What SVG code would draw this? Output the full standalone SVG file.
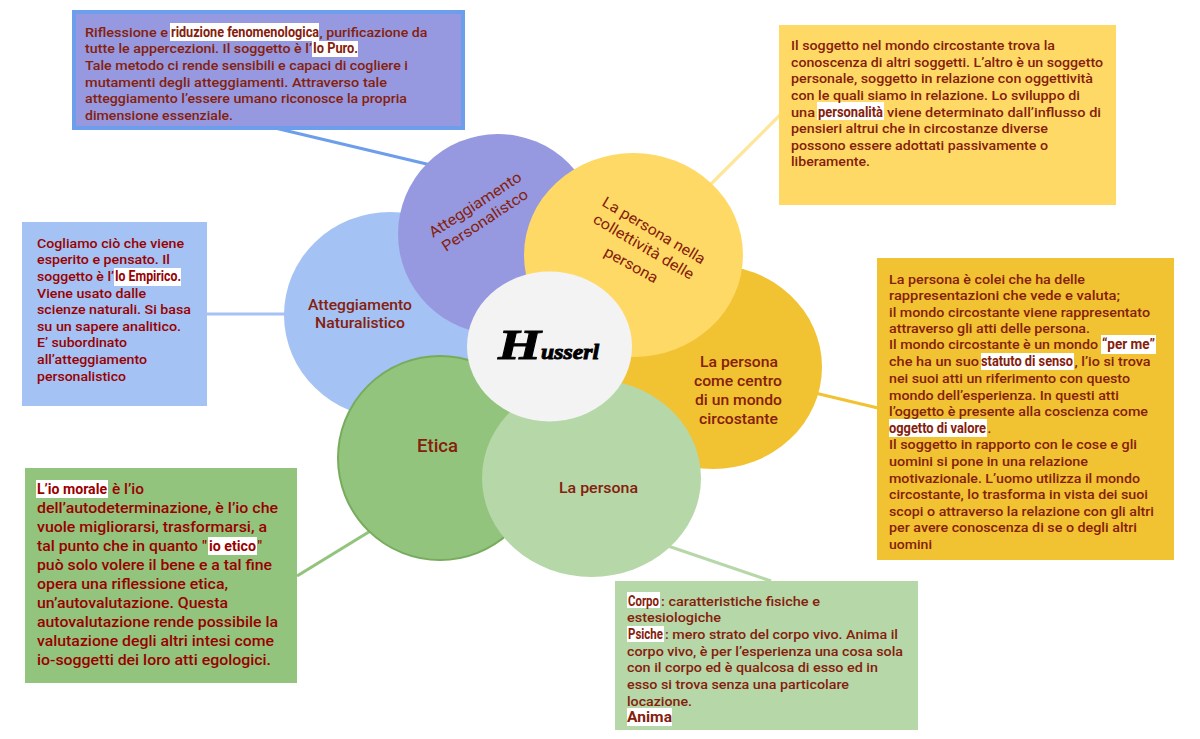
<svg xmlns="http://www.w3.org/2000/svg" width="1200" height="739" viewBox="0 0 1200 739">
<style>
text{font-family:Roboto,"Liberation Sans",sans-serif;font-weight:500;fill:#85200c;font-size:13.4px}
.r{fill:#990000}
.big{font-size:14.4px}
.hl{fill:#fff}
.b{font-family:"Liberation Sans Narrow",Roboto,sans-serif;font-weight:700;font-size:14.5px}
.lab{font-size:15px;font-weight:500}
.con{fill:none;stroke-width:3.2}
</style>
<rect width="1200" height="739" fill="#fff"/>
<g id="connectors">
<line class="con" x1="275" y1="128" x2="435" y2="166" stroke="#6d9eeb"/>
<line class="con" x1="207" y1="314" x2="286" y2="314" stroke="#a4c2f4"/>
<line class="con" x1="711" y1="184" x2="781" y2="114" stroke="#ffe599"/>
<line class="con" x1="815" y1="393" x2="878" y2="408" stroke="#f1c232"/>
<line class="con" x1="297" y1="576" x2="372" y2="530" stroke="#93c47d"/>
<line class="con" x1="668" y1="546" x2="771" y2="581" stroke="#b6d7a8"/>
</g>
<g id="node-naturalistico">
<ellipse cx="390" cy="315" rx="106" ry="103" fill="#a4c2f4"/>
<text class="lab" x="308" y="310" textLength="104" lengthAdjust="spacingAndGlyphs">Atteggiamento</text>
<text class="lab" x="315" y="328" textLength="90" lengthAdjust="spacingAndGlyphs">Naturalistico</text>
</g>
<g id="node-personalistico">
<ellipse cx="498" cy="234" rx="100" ry="100" fill="#9699e0"/>
<text class="lab" transform="translate(433 238) rotate(-33)" textLength="107" lengthAdjust="spacingAndGlyphs" style="font-weight:400">Atteggiamento</text>
<text class="lab" transform="translate(446 252) rotate(-33.5)" textLength="100" lengthAdjust="spacingAndGlyphs" style="font-weight:400">Personalistco</text>
</g>
<g id="node-circostante">
<ellipse cx="713" cy="367" rx="109" ry="102" fill="#f1c232"/>
<text class="lab" x="700" y="367" textLength="78" lengthAdjust="spacingAndGlyphs">La persona</text>
<text class="lab" x="694" y="386" textLength="88" lengthAdjust="spacingAndGlyphs">come centro</text>
<text class="lab" x="695" y="405" textLength="87" lengthAdjust="spacingAndGlyphs">di un mondo</text>
<text class="lab" x="699" y="424" textLength="79" lengthAdjust="spacingAndGlyphs">circostante</text>
</g>
<g id="node-collettivita">
<ellipse cx="633.500" cy="255" rx="109.500" ry="102" fill="#ffd966"/>
<text class="lab" transform="translate(601 205) rotate(30.700)" textLength="117" lengthAdjust="spacingAndGlyphs" style="font-weight:400">La persona nella</text>
<text class="lab" transform="translate(592 222) rotate(30.600)" textLength="114" lengthAdjust="spacingAndGlyphs" style="font-weight:400">collettività delle</text>
<text class="lab" transform="translate(603 255) rotate(29)" textLength="59" lengthAdjust="spacingAndGlyphs" style="font-weight:400">persona</text>
</g>
<g id="node-etica">
<ellipse cx="440" cy="458" rx="102" ry="102" fill="#93c47d" stroke="#76ac5c" stroke-width="2"/>
<text class="lab" x="417" y="452" textLength="41" lengthAdjust="spacingAndGlyphs" style="font-size:18px">Etica</text>
</g>
<g id="node-persona">
<ellipse cx="591.500" cy="478" rx="109.500" ry="99" fill="#b6d7a8"/>
<text class="lab" x="559" y="493" textLength="79" lengthAdjust="spacingAndGlyphs">La persona</text>
</g>
<g id="node-husserl">
<ellipse cx="549.500" cy="346.500" rx="82.500" ry="75" fill="#f3f3f3"/>
<text y="359" style="font-family:'Liberation Serif',serif;font-style:italic;font-weight:700;fill:#000;stroke:#000;stroke-width:.9"><tspan x="498" textLength="43" lengthAdjust="spacingAndGlyphs" style="font-size:42px">H</tspan><tspan x="541" textLength="58" lengthAdjust="spacingAndGlyphs" style="font-size:22px">usserl</tspan></text>
</g>
<g id="box-riduzione">
<rect x="74" y="12" width="389" height="116" fill="#9699e0" stroke="#6d9eeb" stroke-width="4"/>
<rect class="hl" x="170" y="23" width="149" height="18"/>
<rect class="hl" x="312" y="41" width="46" height="16"/>
<text y="37"><tspan x="85" textLength="83" lengthAdjust="spacingAndGlyphs">Riflessione e</tspan><tspan class="b" x="171" textLength="148" lengthAdjust="spacingAndGlyphs">riduzione fenomenologica</tspan><tspan x="319.500" textLength="108" lengthAdjust="spacingAndGlyphs">, purificazione da</tspan></text>
<text y="53"><tspan x="85" textLength="227" lengthAdjust="spacingAndGlyphs">tutte le appercezioni. Il soggetto è l’</tspan><tspan class="b" x="313" textLength="45" lengthAdjust="spacingAndGlyphs">Io Puro.</tspan></text>
<text x="85" y="70" textLength="323" lengthAdjust="spacingAndGlyphs">Tale metodo ci rende sensibili e capaci di cogliere i</text>
<text x="85" y="87" textLength="302" lengthAdjust="spacingAndGlyphs">mutamenti degli atteggiamenti. Attraverso  tale</text>
<text x="85" y="103" textLength="322" lengthAdjust="spacingAndGlyphs">atteggiamento l’essere umano riconosce la propria</text>
<text x="85" y="120" textLength="148" lengthAdjust="spacingAndGlyphs">dimensione essenziale.</text>
</g>
<g id="box-oggettivita">
<rect x="779" y="25" width="337" height="180" fill="#ffd966"/>
<rect class="hl" x="817" y="102" width="67" height="18"/>
<text x="791" y="50" textLength="264" lengthAdjust="spacingAndGlyphs">Il soggetto nel mondo circostante trova la</text>
<text x="791" y="67" textLength="312" lengthAdjust="spacingAndGlyphs">conoscenza di altri soggetti. L’altro è un soggetto</text>
<text x="791" y="83" textLength="302" lengthAdjust="spacingAndGlyphs">personale, soggetto in relazione con oggettività</text>
<text x="791" y="100" textLength="289" lengthAdjust="spacingAndGlyphs">con le quali siamo in relazione. Lo sviluppo di</text>
<text y="117"><tspan x="791" textLength="24" lengthAdjust="spacingAndGlyphs">una</tspan><tspan class="b" x="818" textLength="65" lengthAdjust="spacingAndGlyphs">personalità</tspan><tspan x="887" textLength="214" lengthAdjust="spacingAndGlyphs">viene determinato  dall’influsso di</tspan></text>
<text x="791" y="133" textLength="257" lengthAdjust="spacingAndGlyphs">pensieri altrui che in circostanze diverse</text>
<text x="791" y="150" textLength="257" lengthAdjust="spacingAndGlyphs">possono essere adottati passivamente o</text>
<text x="791" y="166" textLength="79" lengthAdjust="spacingAndGlyphs">liberamente.</text>
</g>
<g id="box-mondo">
<rect x="877" y="258" width="297" height="302" fill="#f1c232"/>
<rect class="hl" x="1101" y="335" width="55" height="19"/>
<rect class="hl" x="981" y="353" width="93" height="17"/>
<rect class="hl" x="889" y="419" width="98" height="18"/>
<text x="889" y="284" textLength="196" lengthAdjust="spacingAndGlyphs">La persona è colei che ha delle</text>
<text x="889" y="300" textLength="231" lengthAdjust="spacingAndGlyphs">rappresentazioni  che vede e valuta;</text>
<text x="889" y="317" textLength="261" lengthAdjust="spacingAndGlyphs">il mondo circostante viene rappresentato</text>
<text x="889" y="333" textLength="201" lengthAdjust="spacingAndGlyphs">attraverso gli atti delle persona.</text>
<text y="349"><tspan x="889" textLength="209" lengthAdjust="spacingAndGlyphs">Il mondo circostante è un mondo</tspan><tspan class="b" x="1102" textLength="53" lengthAdjust="spacingAndGlyphs">“per me”</tspan></text>
<text y="366"><tspan x="889" textLength="90" lengthAdjust="spacingAndGlyphs">che ha un  suo</tspan><tspan class="b" x="981" textLength="92" lengthAdjust="spacingAndGlyphs">statuto di senso</tspan><tspan x="1074.500" textLength="76" lengthAdjust="spacingAndGlyphs">, l’io si trova</tspan></text>
<text x="889" y="383" textLength="241" lengthAdjust="spacingAndGlyphs">nei suoi atti un riferimento con questo</text>
<text x="889" y="400" textLength="230" lengthAdjust="spacingAndGlyphs">mondo dell’esperienza. In questi atti</text>
<text x="889" y="416" textLength="259" lengthAdjust="spacingAndGlyphs">l’oggetto è presente alla coscienza come</text>
<text y="433"><tspan class="b" x="889" textLength="97" lengthAdjust="spacingAndGlyphs">oggetto di valore</tspan><tspan x="987.500">.</tspan></text>
<text x="889" y="449" textLength="248" lengthAdjust="spacingAndGlyphs">Il soggetto in rapporto con le cose e gli</text>
<text x="889" y="466" textLength="199" lengthAdjust="spacingAndGlyphs">uomini si pone in una relazione</text>
<text x="889" y="483" textLength="251" lengthAdjust="spacingAndGlyphs">motivazionale. L’uomo utilizza il mondo</text>
<text x="889" y="499" textLength="259" lengthAdjust="spacingAndGlyphs">circostante, lo trasforma in vista dei suoi</text>
<text x="889" y="516" textLength="265" lengthAdjust="spacingAndGlyphs">scopi o attraverso la relazione con gli altri</text>
<text x="889" y="532" textLength="248" lengthAdjust="spacingAndGlyphs">per avere conoscenza di se o degli altri</text>
<text x="889" y="549" textLength="43" lengthAdjust="spacingAndGlyphs">uomini</text>
</g>
<g id="box-corpo">
<rect x="615" y="581" width="303" height="149" fill="#b6d7a8"/>
<rect class="hl" x="627" y="592" width="33" height="16"/>
<rect class="hl" x="627" y="626" width="37" height="16"/>
<rect class="hl" x="627" y="708" width="45" height="18"/>
<text y="606"><tspan class="b" x="628" textLength="31" lengthAdjust="spacingAndGlyphs">Corpo</tspan><tspan x="661" textLength="159" lengthAdjust="spacingAndGlyphs">: caratteristiche fisiche e</tspan></text>
<text x="627" y="622" textLength="94" lengthAdjust="spacingAndGlyphs">estesiologiche</text>
<text y="639"><tspan class="b" x="628" textLength="35" lengthAdjust="spacingAndGlyphs">Psiche</tspan><tspan x="665" textLength="233" lengthAdjust="spacingAndGlyphs">: mero strato del corpo vivo. Anima il</tspan></text>
<text x="627" y="656" textLength="276" lengthAdjust="spacingAndGlyphs">corpo vivo, è per l’esperienza una cosa sola</text>
<text x="627" y="672" textLength="251" lengthAdjust="spacingAndGlyphs">con il corpo ed è qualcosa di esso ed in</text>
<text x="627" y="689" textLength="222" lengthAdjust="spacingAndGlyphs">esso si trova senza una particolare</text>
<text x="627" y="706" textLength="65" lengthAdjust="spacingAndGlyphs">locazione.</text>
<text x="627" y="722" textLength="45" lengthAdjust="spacingAndGlyphs" style="font-weight:700;font-size:14px">Anima</text>
</g>
<g id="box-etica">
<rect x="25" y="468" width="272" height="215" fill="#93c47d"/>
<rect class="hl" x="36" y="480" width="72" height="18"/>
<rect class="hl" x="208" y="537" width="49" height="18"/>
<text class="big r" y="494"><tspan class="b" x="37" textLength="70" lengthAdjust="spacingAndGlyphs" style="font-size:15.5px">L’io morale</tspan><tspan x="112" textLength="32" lengthAdjust="spacingAndGlyphs">è l’io</tspan></text>
<text class="big r" x="37" y="513" textLength="241" lengthAdjust="spacingAndGlyphs">dell’autodeterminazione, è l’io che</text>
<text class="big r" x="37" y="532" textLength="230" lengthAdjust="spacingAndGlyphs">vuole migliorarsi, trasformarsi, a</text>
<text class="big r" y="551"><tspan x="37" textLength="170" lengthAdjust="spacingAndGlyphs">tal punto che in quanto "</tspan><tspan class="b" x="209" textLength="47" lengthAdjust="spacingAndGlyphs" style="font-size:15.5px">io etico</tspan><tspan x="257.500">"</tspan></text>
<text class="big r" x="37" y="570" textLength="235" lengthAdjust="spacingAndGlyphs">può solo volere il bene e a tal fine</text>
<text class="big r" x="37" y="589" textLength="191" lengthAdjust="spacingAndGlyphs">opera una riflessione etica,</text>
<text class="big r" x="37" y="608" textLength="191" lengthAdjust="spacingAndGlyphs">un’autovalutazione. Questa</text>
<text class="big r" x="37" y="627" textLength="241" lengthAdjust="spacingAndGlyphs">autovalutazione rende possibile la</text>
<text class="big r" x="37" y="646" textLength="237" lengthAdjust="spacingAndGlyphs">valutazione degli altri intesi come</text>
<text class="big r" x="37" y="665" textLength="234" lengthAdjust="spacingAndGlyphs">io-soggetti dei loro atti egologici.</text>
</g>
<g id="box-empirico">
<rect x="22" y="222" width="185" height="184" fill="#a4c2f4"/>
<rect class="hl" x="114" y="268" width="67" height="18"/>
<text class="r" x="37" y="248" textLength="147" lengthAdjust="spacingAndGlyphs">Cogliamo ciò che viene</text>
<text class="r" x="37" y="264" textLength="133" lengthAdjust="spacingAndGlyphs">esperito e pensato. Il</text>
<text class="r" y="281"><tspan x="37" textLength="77" lengthAdjust="spacingAndGlyphs">soggetto è l’</tspan><tspan class="b" x="115" textLength="66" lengthAdjust="spacingAndGlyphs">Io Empirico.</tspan></text>
<text class="r" x="37" y="298" textLength="109" lengthAdjust="spacingAndGlyphs">Viene usato dalle</text>
<text class="r" x="37" y="314" textLength="154" lengthAdjust="spacingAndGlyphs">scienze naturali. Si basa</text>
<text class="r" x="37" y="331" textLength="144" lengthAdjust="spacingAndGlyphs">su un sapere analitico.</text>
<text class="r" x="37" y="347" textLength="90" lengthAdjust="spacingAndGlyphs">E’ subordinato</text>
<text class="r" x="37" y="364" textLength="110" lengthAdjust="spacingAndGlyphs">all’atteggiamento</text>
<text class="r" x="37" y="381" textLength="89" lengthAdjust="spacingAndGlyphs">personalistico</text>
</g>
</svg>
